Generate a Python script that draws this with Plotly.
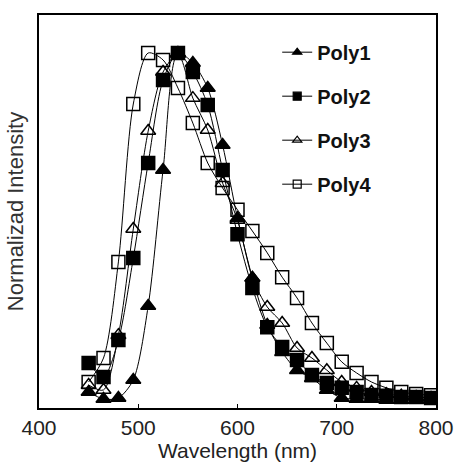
import plotly.graph_objects as go

wavelength = [450, 465, 480, 495, 510, 525, 540, 555, 570, 585, 600, 615,
              630, 645, 660, 675, 690, 705, 720, 735, 750, 765, 780, 795]

poly1 = [0.023, 0.003, 0.006, 0.058, 0.271, 0.663, 1.000, 0.971, 0.899, 0.735, 0.524, 0.352,
         0.216, 0.138, 0.086, 0.063, 0.029, 0.006, 0.003, 0.003, 0.000, 0.000, 0.000, 0.000]
poly2 = [0.107, 0.066, 0.173, 0.409, 0.683, 0.922, 1.000, 0.945, 0.850, 0.663, 0.478, 0.323,
         0.210, 0.153, 0.115, 0.072, 0.049, 0.035, 0.023, 0.014, 0.012, 0.009, 0.009, 0.006]
poly3 = [0.043, 0.029, 0.187, 0.493, 0.775, 0.945, 0.997, 0.870, 0.778, 0.625, 0.519, 0.352,
         0.268, 0.222, 0.150, 0.121, 0.086, 0.052, 0.035, 0.023, 0.017, 0.012, 0.009, 0.006]
poly4 = [0.052, 0.121, 0.398, 0.853, 1.000, 0.980, 0.899, 0.798, 0.683, 0.611, 0.548, 0.487,
         0.424, 0.354, 0.294, 0.222, 0.164, 0.110, 0.078, 0.052, 0.035, 0.023, 0.017, 0.014]

series_names = ["Poly1", "Poly2", "Poly3", "Poly4"]
series_values = [poly1, poly2, poly3, poly4]
x_ticks = [400, 500, 600, 700, 800]

symbols = ["triangle-up", "square", "triangle-up-open", "square-open"]
FONT = "Liberation Sans, Arial, sans-serif"

fig = go.Figure()
for name, vals, sym in zip(series_names, series_values, symbols):
    fig.add_trace(go.Scatter(
        x=wavelength, y=vals, mode="lines+markers", name=name,
        line=dict(color="black", width=1, shape="spline", smoothing=0.8),
        marker=dict(symbol=sym, size=13, color="black",
                    line=dict(color="black", width=1.5)),
        showlegend=False,
    ))
# legend entries with small markers
for i, (name, sym) in enumerate(zip(series_names, symbols)):
    fig.add_trace(go.Scatter(
        x=[None], y=[None], mode="lines+markers", name=name,
        line=dict(color="black", width=1),
        marker=dict(symbol=sym, size=8, color="black", line=dict(color="black", width=1.2)),
        legendgroup=f"g{i}", showlegend=True,
    ))

fig.update_layout(
    width=457, height=464,
    margin=dict(l=39, r=21, t=15, b=56),
    paper_bgcolor="white", plot_bgcolor="white",
    font=dict(family=FONT, color="#222"),
    legend=dict(x=0.6, y=0.955, xanchor="left", yanchor="top",
                font=dict(size=20, family=FONT, color="#111", weight="bold"),
                bgcolor="rgba(0,0,0,0)", tracegroupgap=15, itemwidth=30),
    showlegend=True,
)
fig.update_xaxes(
    range=[400, 800], tickvals=x_ticks, ticktext=[str(t) for t in x_ticks],
    showline=True, linecolor="black", linewidth=1.5, mirror=True,
    ticks="inside", ticklen=4, tickcolor="black", tickwidth=1,
    showgrid=False, zeroline=False, automargin=False,
    tickfont=dict(size=21, family=FONT, color="#222"),
    title=dict(text="Wavelength (nm)", font=dict(size=21, family=FONT, color="#222"), standoff=2),
)
fig.update_yaxes(
    range=[-0.023, 1.1095],
    showline=True, linecolor="black", linewidth=1.5, mirror=True, automargin=False,
    showticklabels=False, ticks="", showgrid=False, zeroline=False,
    title=dict(text="Normalizad Intensity", font=dict(size=22, family=FONT, color="#333"), standoff=8),
)

fig.write_html("out.html")
